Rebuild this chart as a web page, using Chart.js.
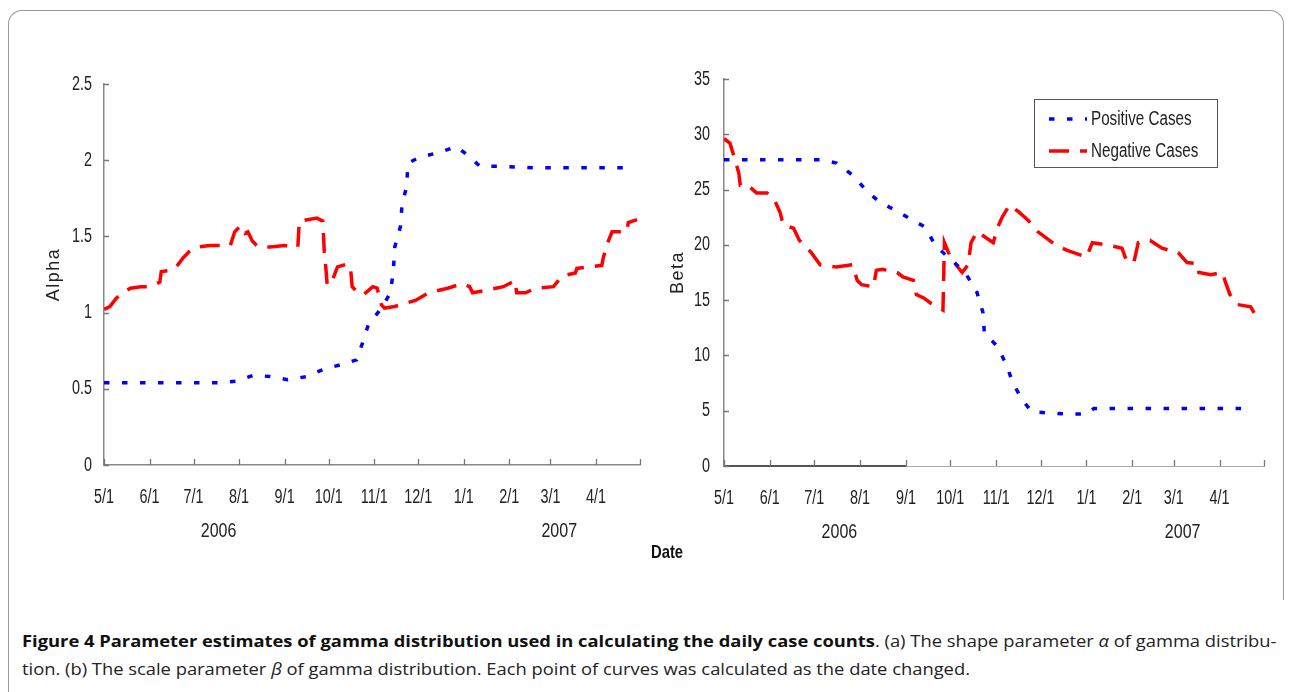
<!DOCTYPE html>
<html>
<head>
<meta charset="utf-8">
<script src="https://cdn.jsdelivr.net/npm/chart.js@4.4.1/dist/chart.umd.min.js"></script>
<style>
  body { margin: 0; background: #fff; width: 1292px; height: 692px; overflow: hidden; position: relative; }
  .frame { position: absolute; left: 8px; top: 10px; width: 1274px; height: 700px;
           border: 1.5px solid #999; border-bottom: none; border-radius: 14px 14px 0 0; }
  .frame-cut { position: absolute; left: 1270px; top: 600px; width: 22px; height: 92px; background: #fff; }
  .box { position: absolute; top: 40px; height: 520px; }
  .date-label { position: absolute; left: 667px; top: 552px; transform: translate(-50%, -50%) scaleX(0.78);
                font: bold 19px 'Liberation Sans', Arial, sans-serif; color: #111; }
  .caption { position: absolute; left: 22px; white-space: nowrap; font: 16px 'Open Sans', sans-serif;
             color: #222; transform-origin: left center; line-height: 20px; }
  .caption b { color: #111; }
</style>
</head>
<body>
<div class="frame"></div>
<div class="frame-cut"></div>
<div class="box" style="left:0;width:660px"><canvas id="alphaChart" width="660" height="520"></canvas></div>
<div class="box" style="left:660px;width:632px"><canvas id="betaChart" width="632" height="520"></canvas></div>
<div class="date-label">Date</div>
<div class="caption" id="cap1" style="top:631px"><b>Figure 4 Parameter estimates of gamma distribution used in calculating the daily case counts</b>. (a) The shape parameter <i>α</i> of gamma distribu-</div>
<div class="caption" id="cap2" style="top:659px">tion. (b) The scale parameter <i>β</i> of gamma distribution. Each point of curves was calculated as the date changed.</div>

<script>
// days counted from 5/1/2006
const monthDays = [0, 31, 61, 92, 123, 153, 184, 214, 245, 276, 304, 335, 365];
const monthLabels = ['5/1', '6/1', '7/1', '8/1', '9/1', '10/1', '11/1', '12/1', '1/1', '2/1', '3/1', '4/1', ''];
const yearLabels = ['2006', '2007'];
const yearDays = [78, 310];
const seriesNames = ['Positive Cases', 'Negative Cases'];

const alphaPosDays = [0, 79, 90, 102, 113, 125, 138, 150, 162, 172, 176, 180, 189, 195, 197, 198, 202, 203, 206, 207, 215, 228, 240, 248, 256, 270, 294, 317, 338, 358];
const alphaPosVals = [0.54, 0.54, 0.55, 0.59, 0.58, 0.56, 0.58, 0.63, 0.66, 0.69, 0.80, 0.92, 1.03, 1.13, 1.27, 1.43, 1.57, 1.72, 1.82, 1.98, 2.02, 2.05, 2.09, 2.03, 1.96, 1.96, 1.95, 1.95, 1.95, 1.95];

const alphaNegDays = [0, 4, 8, 11, 13, 18, 25, 31, 38, 39, 47, 50, 54, 58, 63, 72, 86, 89, 93, 96, 98, 101, 104, 106, 113, 123, 132, 133, 145, 149, 150, 151, 152, 155, 159, 166, 168, 169, 171, 174, 177, 183, 186, 189, 191, 198, 212, 221, 234, 244, 249, 251, 262, 272, 280, 281, 287, 294, 306, 312, 321, 322, 330, 339, 340, 343, 346, 356, 357, 363];
const alphaNegVals = [1.02, 1.04, 1.09, 1.12, 1.13, 1.16, 1.17, 1.17, 1.20, 1.27, 1.28, 1.31, 1.36, 1.40, 1.43, 1.44, 1.44, 1.53, 1.57, 1.52, 1.53, 1.47, 1.44, 1.43, 1.43, 1.44, 1.43, 1.60, 1.62, 1.60, 1.40, 1.30, 1.18, 1.20, 1.30, 1.32, 1.28, 1.17, 1.15, 1.12, 1.12, 1.17, 1.16, 1.05, 1.03, 1.04, 1.08, 1.13, 1.16, 1.19, 1.17, 1.13, 1.15, 1.17, 1.21, 1.13, 1.13, 1.16, 1.17, 1.24, 1.26, 1.29, 1.30, 1.31, 1.36, 1.46, 1.53, 1.53, 1.59, 1.61];

const betaPosDays = [0, 65, 76, 87, 97, 105, 116, 124, 136, 143, 154, 163, 171, 175, 176, 185, 191, 195, 201, 208, 219, 232, 245, 250, 268, 357];
const betaPosVals = [27.7, 27.7, 27.4, 26.3, 24.8, 23.9, 23.1, 22.5, 21.6, 19.9, 18.6, 17.5, 15.7, 13.9, 12.0, 10.8, 9.1, 7.6, 6.1, 4.9, 4.8, 4.7, 4.7, 5.2, 5.2, 5.2];

const betaNegDays = [0, 4, 7, 10, 11, 16, 22, 29, 34, 38, 40, 47, 51, 54, 59, 65, 76, 87, 90, 93, 101, 103, 107, 117, 121, 128, 130, 135, 140, 148, 149, 153, 158, 161, 165, 167, 171, 182, 185, 188, 193, 199, 205, 212, 224, 232, 245, 249, 259, 269, 272, 277, 280, 288, 296, 307, 313, 320, 321, 329, 337, 339, 342, 347, 356, 359, 364];
const betaNegVals = [29.6, 29.2, 27.9, 26.5, 25.4, 25.4, 24.7, 24.7, 24.1, 22.9, 21.8, 21.5, 20.4, 20.0, 19.3, 18.2, 18.0, 18.2, 16.8, 16.4, 16.2, 17.7, 17.8, 17.5, 17.1, 16.8, 15.5, 15.2, 14.7, 14.1, 20.2, 18.9, 18.0, 17.5, 18.2, 20.2, 21.2, 20.2, 21.6, 22.5, 23.6, 23.0, 22.3, 21.2, 20.0, 19.5, 18.9, 20.2, 20.0, 19.7, 18.6, 18.4, 20.2, 20.4, 19.7, 19.3, 18.4, 18.3, 17.5, 17.3, 17.5, 16.6, 15.5, 14.6, 14.4, 13.7, 13.7];

const sans = "'Liberation Sans', Arial, sans-serif";
const textColor = '#222';

const toPoints = (days, vals) => days.map((d, i) => ({ x: d, y: vals[i] }));

const makeDatasets = (posDays, posVals, negDays, negVals) => [
    {
        label: seriesNames[0],
        data: toPoints(posDays, posVals),
        borderColor: '#0000ff',
        borderWidth: 3.5,
        borderDash: [5.5, 12.5],
        borderCapStyle: 'butt',
        pointRadius: 0,
        tension: 0
    },
    {
        label: seriesNames[1],
        data: toPoints(negDays, negVals),
        borderColor: '#ff0000',
        borderWidth: 3.5,
        borderDash: [20, 11],
        borderCapStyle: 'butt',
        pointRadius: 0,
        tension: 0
    }
];

// the scanned figure uses a narrow face, so glyphs are squeezed sideways
const narrowText = (ctx, text, x, y, size, align, squeeze) => {
    ctx.save();
    ctx.translate(x, y);
    ctx.scale(squeeze, 1);
    ctx.font = size + 'px ' + sans;
    ctx.fillStyle = textColor;
    ctx.textAlign = align;
    ctx.textBaseline = 'middle';
    ctx.fillText(text, 0, 0);
    ctx.restore();
};

// inward tick marks, tick labels, y title, year labels, optional darker axis stretch
const decorations = {
    id: 'decorations',
    afterDraw(chart, args, opts) {
        const { ctx, chartArea, scales: { x, y } } = chart;
        ctx.save();

        if (opts.darkSpan) {
            ctx.strokeStyle = '#555';
            ctx.lineWidth = 2.2;
            ctx.beginPath();
            ctx.moveTo(x.getPixelForValue(opts.darkSpan[0]), chartArea.bottom);
            ctx.lineTo(x.getPixelForValue(opts.darkSpan[1]), chartArea.bottom);
            ctx.stroke();
        }

        ctx.strokeStyle = '#777';
        ctx.lineWidth = 1.3;
        ctx.beginPath();
        x.ticks.forEach(t => {
            const px = Math.round(x.getPixelForValue(t.value)) + 0.5;
            ctx.moveTo(px, chartArea.bottom);
            ctx.lineTo(px, chartArea.bottom - 6);
        });
        y.ticks.forEach(t => {
            const py = Math.round(y.getPixelForValue(t.value)) + 0.5;
            ctx.moveTo(chartArea.left, py);
            ctx.lineTo(chartArea.left + 5, py);
        });
        ctx.stroke();

        x.ticks.forEach((t, i) => {
            narrowText(ctx, monthLabels[i], x.getPixelForValue(t.value), chartArea.bottom + 32, 20, 'center', 0.72);
        });
        y.ticks.forEach(t => {
            const label = String(Number(t.value.toFixed(2)));
            narrowText(ctx, label, chartArea.left - opts.labelGap, y.getPixelForValue(t.value), 20, 'right', 0.72);
        });
        yearLabels.forEach((label, i) => {
            narrowText(ctx, label, x.getPixelForValue(yearDays[i]), chartArea.bottom + 66, 20, 'center', 0.8);
        });

        ctx.translate(opts.titleX, (chartArea.top + chartArea.bottom) / 2);
        ctx.rotate(-Math.PI / 2);
        ctx.fillStyle = textColor;
        ctx.textAlign = 'center';
        ctx.textBaseline = 'middle';
        ctx.font = '18px ' + sans;
        ctx.letterSpacing = '1.5px';
        ctx.fillText(opts.yTitle, 0, 0);
        ctx.restore();
    }
};

const boxLegend = {
    id: 'boxLegend',
    afterDraw(chart, args, opts) {
        if (!opts.show) return;
        const { ctx, chartArea } = chart;
        const left = chartArea.right - opts.right - opts.width;
        const top = chartArea.top + opts.top;
        ctx.save();
        ctx.fillStyle = '#fff';
        ctx.fillRect(left, top, opts.width, opts.height);
        ctx.strokeStyle = '#555';
        ctx.lineWidth = 1;
        ctx.strokeRect(left + 0.5, top + 0.5, opts.width, opts.height);

        chart.data.datasets.forEach((ds, i) => {
            const rowY = top + 20 + i * 32;
            ctx.strokeStyle = ds.borderColor;
            ctx.lineWidth = ds.borderWidth;
            ctx.setLineDash(ds.borderDash);
            ctx.beginPath();
            ctx.moveTo(left + 15, rowY);
            ctx.lineTo(left + 53, rowY);
            ctx.stroke();
            ctx.setLineDash([]);
            narrowText(ctx, ds.label, left + 57, rowY, 20, 'left', 0.76);
        });
        ctx.restore();
    }
};

const buildChart = (canvasId, datasets, cfg) => new Chart(document.getElementById(canvasId), {
    type: 'line',
    data: { datasets },
    options: {
        responsive: false,
        animation: false,
        layout: { padding: { top: cfg.padTop, right: cfg.padRight, left: 0, bottom: 0 } },
        plugins: {
            legend: { display: false },
            tooltip: { enabled: false },
            decorations: { yTitle: cfg.yTitle, titleX: cfg.titleX, darkSpan: cfg.darkSpan, labelGap: cfg.labelGap },
            boxLegend: { show: cfg.legend, right: 47, top: 20, width: 183, height: 68 }
        },
        scales: {
            x: {
                type: 'linear',
                min: 0,
                max: 365,
                afterBuildTicks: scale => { scale.ticks = monthDays.map(v => ({ value: v })); },
                afterFit: scale => { scale.height = cfg.xHeight; },
                ticks: { display: false },
                grid: { display: false, drawTicks: false },
                border: { color: cfg.xBorder, width: cfg.xBorderWidth }
            },
            y: {
                min: 0,
                max: cfg.yMax,
                afterFit: scale => { scale.width = cfg.yWidth; },
                ticks: { display: false, stepSize: cfg.yStep },
                grid: { display: false, drawTicks: false },
                border: { color: '#888', width: 1.5 }
            }
        }
    },
    plugins: [decorations, boxLegend]
});

buildChart('alphaChart', makeDatasets(alphaPosDays, alphaPosVals, alphaNegDays, alphaNegVals), {
    padTop: 44, padRight: 20, yWidth: 104, xHeight: 95,
    yMax: 2.5, yStep: 0.5, yTitle: 'Alpha', titleX: 54, labelGap: 12,
    xBorder: '#888', xBorderWidth: 1.5, legend: false
});

buildChart('betaChart', makeDatasets(betaPosDays, betaPosVals, betaNegDays, betaNegVals), {
    padTop: 39, padRight: 28, yWidth: 64, xHeight: 94,
    yMax: 35, yStep: 5, yTitle: 'Beta', titleX: 18, labelGap: 14,
    xBorder: '#aaa', xBorderWidth: 1, darkSpan: [0, 123], legend: true
});

// squeeze caption lines to the widths of the reference
const fitLine = (id, target) => {
    const el = document.getElementById(id);
    el.style.transform = 'scaleX(' + (target / el.offsetWidth) + ')';
};
fitLine('cap1', 1255);
fitLine('cap2', 948);
</script>
</body>
</html>
